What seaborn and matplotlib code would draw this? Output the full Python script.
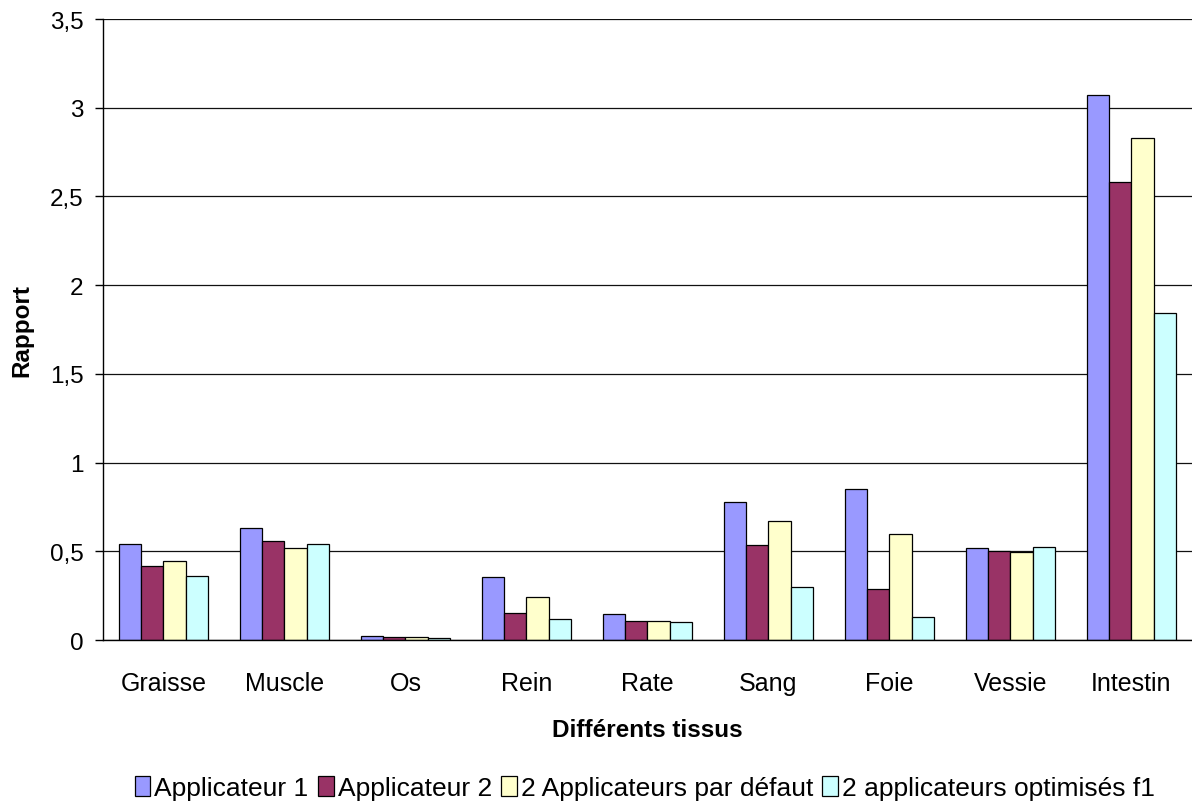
import numpy as np
import pandas as pd
import matplotlib
matplotlib.use('Agg')
import matplotlib.pyplot as plt
import seaborn as sns

tissus = ['Graisse', 'Muscle', 'Os', 'Rein', 'Rate', 'Sang', 'Foie', 'Vessie', 'Intestin']
series = ['Applicateur 1', 'Applicateur 2', '2 Applicateurs par défaut',
          '2 applicateurs optimisés f1']
applicateur_1 = [0.54, 0.63, 0.02, 0.355, 0.145, 0.78, 0.85, 0.52, 3.07]
applicateur_2 = [0.42, 0.56, 0.015, 0.15, 0.105, 0.535, 0.29, 0.50, 2.58]
defaut = [0.445, 0.52, 0.015, 0.24, 0.105, 0.67, 0.60, 0.495, 2.83]
optimises = [0.36, 0.54, 0.012, 0.12, 0.10, 0.30, 0.13, 0.525, 1.845]
couleurs = ['#9999FF', '#993366', '#FFFFCC', '#CCFFFF']

rows = []
for nom, vals in zip(series, [applicateur_1, applicateur_2, defaut, optimises]):
    for t, v in zip(tissus, vals):
        rows.append({'tissu': t, 'serie': nom, 'rapport': v})
df = pd.DataFrame(rows)

sns.set_style('white')
plt.rcParams['font.family'] = ['Liberation Sans', 'DejaVu Sans']
plt.rcParams['text.color'] = 'black'
plt.rcParams['axes.labelcolor'] = 'black'
plt.rcParams['xtick.color'] = 'black'
plt.rcParams['ytick.color'] = 'black'

fig = plt.figure(figsize=(11.92, 8.03), dpi=100)
ax = fig.add_axes([0.0864, 0.2017, 0.9136, 0.7733])

sns.barplot(data=df, x='tissu', y='rapport', hue='serie', order=tissus,
            hue_order=series, palette=couleurs, width=0.73, gap=0,
            edgecolor='black', linewidth=0.9, saturation=1, ax=ax, legend=True)

ax.set_ylim(0, 3.5)
ax.set_xlim(-0.5, 8.5)
yt = np.arange(0, 3.51, 0.5)
ax.set_yticks(yt)
ax.set_yticklabels([f'{v:g}'.replace('.', ',') for v in yt], fontsize=17.5)
ax.yaxis.grid(True, color='#111111', linewidth=0.9)
ax.set_axisbelow(True)
ax.set_xticks(range(len(tissus)))
ax.set_xticklabels(tissus, fontsize=18)
ax.set_xticks(np.arange(-0.5, 9.0, 1.0), minor=True)
ax.tick_params(axis='x', which='major', length=0, pad=22)
ax.tick_params(axis='x', which='minor', length=8, width=1, direction='out', color='black')
ax.tick_params(axis='y', length=6, width=1, direction='out', color='black', left=True, pad=8)

for s in ['top', 'right']:
    ax.spines[s].set_visible(False)
for s in ['left', 'bottom']:
    ax.spines[s].set_color('black')
    ax.spines[s].set_linewidth(1)

ax.set_xlabel('Différents tissus', fontsize=17.5, fontweight='bold', labelpad=17)
ax.set_ylabel('Rapport', fontsize=17.5, fontweight='bold', labelpad=12)

handles, labels = ax.get_legend_handles_labels()
ax.get_legend().remove()
fig.legend(handles, labels, loc='center', bbox_to_anchor=(0.541, 0.017), ncol=4,
           frameon=False, fontsize=19, handlelength=0.6, handleheight=0.8,
           handletextpad=0.15, columnspacing=0.35, borderaxespad=0)

plt.savefig('out.png', dpi=100)
